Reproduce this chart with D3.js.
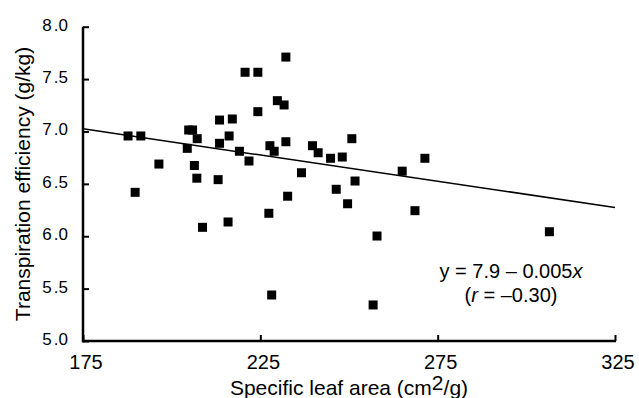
<!DOCTYPE html>
<html><head><meta charset="utf-8">
<script src="https://cdn.jsdelivr.net/npm/d3@7"></script>
<style>
body{margin:0;background:#fff;}
svg text{font-family:"Liberation Sans",Arial,sans-serif;fill:#000;}
</style></head>
<body><svg id="c" width="639" height="398"></svg>
<script>
const sla = [232.2,220.7,224.3,229.8,231.7,224.3,213.5,217.1,187.7,191.3,204.8,205.9,207.2,216.2,213.5,204.4,219.1,227.7,228.9,232.2,221.8,196.4,206.4,207.1,213.1,189.7,232.7,227.4,215.9,208.7,228.2,239.7,241.3,250.8,244.8,248.1,271.4,265.0,236.6,251.7,246.4,249.6,268.6,257.9,256.8,306.5];
const te  = [7.71,7.565,7.565,7.294,7.253,7.189,7.109,7.119,6.957,6.957,7.014,7.014,6.931,6.957,6.887,6.839,6.811,6.864,6.811,6.902,6.718,6.689,6.675,6.554,6.54,6.419,6.382,6.219,6.136,6.085,5.439,6.864,6.797,6.931,6.744,6.756,6.744,6.621,6.606,6.527,6.448,6.31,6.244,6.002,5.344,6.043];
const xTicks = [175,225,275,325];
const yTicks = [5.0,5.5,6.0,6.5,7.0,7.5,8.0];
const fitIntercept = 7.9, fitSlope = -0.005;
const eqLine1 = "y = 7.9 \u2013 0.005";
const eqLine2 = "(r = \u20130.30)";

const svg = d3.select("#c");
const x = d3.scaleLinear().domain([175,325]).range([83,615]);
const y = d3.scaleLinear().domain([5,8]).range([341,26.7]);

// axes
const xAxis = d3.axisBottom(x).tickValues(xTicks).tickSize(-6).tickPadding(0).tickFormat(d3.format("d"));
const gx = svg.append("g").attr("transform","translate(0,341)").call(xAxis);
gx.select(".domain").remove();
gx.selectAll(".tick line").attr("stroke","#000").attr("stroke-width",2);
gx.selectAll(".tick text").remove();
svg.append("line").attr("x1",x(175)-1).attr("x2",x(325)+1).attr("y1",341).attr("y2",341).attr("stroke","#000").attr("stroke-width",2.5);

const yAxis = d3.axisLeft(y).tickValues(yTicks).tickSize(-6);
const gy = svg.append("g").attr("transform","translate(83,0)").call(yAxis);
gy.select(".domain").remove();
gy.selectAll(".tick line").attr("stroke","#000").attr("stroke-width",2);
gy.selectAll(".tick text").remove();
svg.append("line").attr("x1",83).attr("x2",83).attr("y1",y(8)).attr("y2",342.2).attr("stroke","#000").attr("stroke-width",2.5);

// tick labels
svg.selectAll(".xl").data(xTicks).enter().append("text")
  .attr("x",d=>x(d)+3).attr("y",369).attr("text-anchor","middle").attr("font-size",20).text(d=>d);
const yl = svg.selectAll(".yl").data(yTicks).enter().append("text")
  .attr("x",68).attr("y",d=>y(d)+4).attr("text-anchor","end").attr("font-size",17);
yl.append("tspan").text(d=>String(Math.floor(d)));
yl.append("tspan").attr("dx",2).text(d=>"."+String(Math.round((d%1)*10)));

// titles
const xt = svg.append("text").attr("x",349).attr("y",395).attr("text-anchor","middle").attr("font-size",21);
xt.append("tspan").text("Specific leaf area (cm");
xt.append("tspan").attr("dy",-5).text("2");
xt.append("tspan").attr("dy",5).text("/g)");
svg.append("text").attr("transform","translate(30,184) rotate(-90)").attr("text-anchor","middle").attr("font-size",21)
  .text("Transpiration efficiency (g/kg)");

// fit line
svg.append("line").attr("x1",x(175)).attr("x2",x(325))
  .attr("y1",y(fitIntercept+fitSlope*175)).attr("y2",y(fitIntercept+fitSlope*325))
  .attr("stroke","#000").attr("stroke-width",1.5);

// points
const s = 9;
svg.selectAll(".pt").data(sla.map((v,i)=>[v,te[i]])).enter().append("rect")
  .attr("x",d=>x(d[0])-s/2).attr("y",d=>y(d[1])-s/2).attr("width",s).attr("height",s).attr("fill","#000");

// equation
const e1 = svg.append("text").attr("x",511).attr("y",278).attr("text-anchor","middle").attr("font-size",20);
e1.append("tspan").text(eqLine1);
e1.append("tspan").attr("font-style","italic").text("x");
const e2 = svg.append("text").attr("x",511).attr("y",302).attr("text-anchor","middle").attr("font-size",20);
e2.append("tspan").text("(");
e2.append("tspan").attr("font-style","italic").text("r");
e2.append("tspan").text(" = \u20130.30)");
</script></body></html>
